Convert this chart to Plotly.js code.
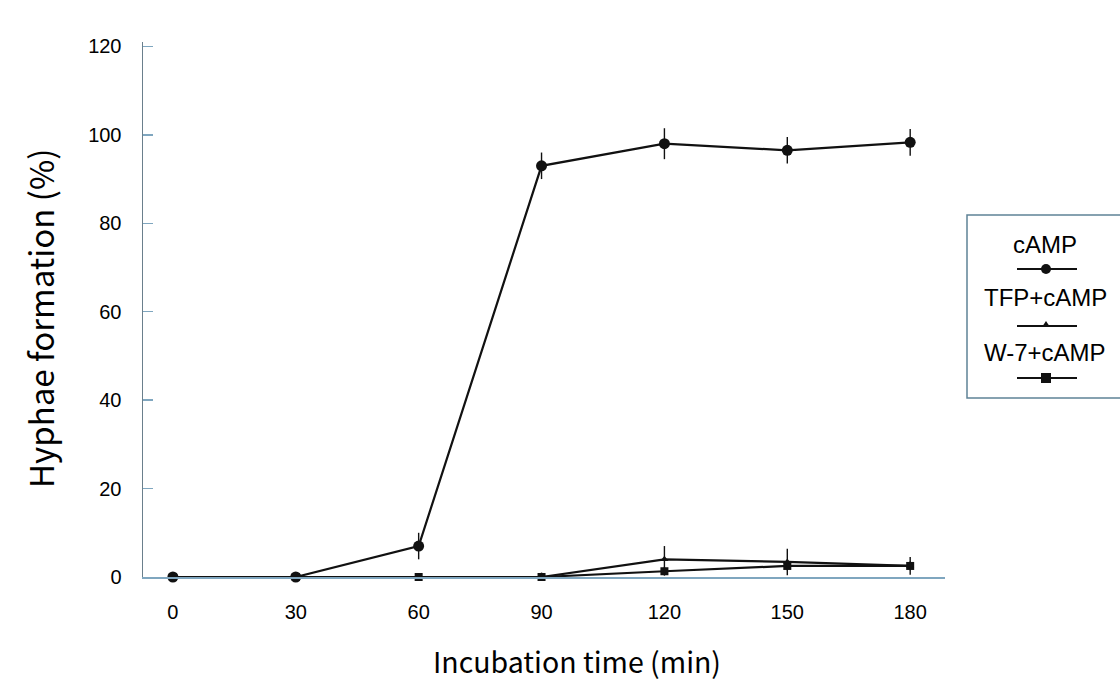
<!DOCTYPE html>
<html><head><meta charset="utf-8">
<script src="https://cdn.plot.ly/plotly-3.0.1.min.js"></script>
<style>html,body{margin:0;padding:0;background:#fff;}#chart{width:1120px;height:682px;}</style>
</head><body><div id="chart"></div>
<script>
const times = [0, 30, 60, 90, 120, 150, 180];
const campValues = [0, 0, 7, 93, 98, 96.5, 98.3];
const campErrors = [0, 0, 3, 3, 3.5, 3, 3];
const tfpValues = [0, 0, 0, 0, 4, 3.4, 2.5];
const tfpErrors = [0, 0, 0, 1, 3, 3, 2];
const w7Values = [0, 0, 0, 0, 1.3, 2.5, 2.5];
const w7Errors = [0, 0, 0, 0, 1, 1, 1];
const seriesNames = ['cAMP', 'TFP+cAMP', 'W-7+cAMP'];
const xTicks = [0, 30, 60, 90, 120, 150, 180];
const yTicks = [0, 20, 40, 60, 80, 100, 120];
const xTitle = 'Incubation time (min)';
const yTitle = 'Hyphae formation (%)';

const lineColor = '#111';
const labelFont = 'Liberation Sans, Arial, sans-serif';
const titleFont = 'Noto Sans CJK JP, Noto Sans, sans-serif';
function tr(name, y, err, symbol, size) {
  return {
    x: times, y: y, name: name, type: 'scatter', mode: 'lines+markers',
    line: {color: lineColor, width: 2.2},
    marker: {symbol: symbol, size: size, color: lineColor},
    error_y: {type: 'data', array: err, visible: true, color: lineColor, thickness: 1.4, width: 0},
    cliponaxis: false, showlegend: false
  };
}
const data = [
  tr(seriesNames[2], w7Values, w7Errors, 'square', 8),
  tr(seriesNames[1], tfpValues, tfpErrors, 'triangle-up', 7),
  tr(seriesNames[0], campValues, campErrors, 'circle', 11)
];

const L = 143, R = 945, T = 42, B = 577;
const px = v => (v - L) / (R - L);
const py = v => (B - v) / (B - T);

const shapes = [
  {type: 'rect', xref: 'paper', yref: 'paper', x0: px(967), x1: px(1128), y0: py(398), y1: py(215),
   line: {color: '#5f8296', width: 1.5}, fillcolor: 'rgba(0,0,0,0)'}
];
const annotations = [
  {xref: 'paper', yref: 'paper', x: px(577), y: py(660), text: xTitle, showarrow: false,
   xanchor: 'center', yanchor: 'middle', font: {size: 28.5, family: titleFont, color: '#000'}},
  {xref: 'paper', yref: 'paper', x: px(40), y: py(318), text: yTitle, showarrow: false, textangle: -90,
   xanchor: 'center', yanchor: 'middle', font: {size: 33, family: titleFont, color: '#000'}}
];
const legY = [[244, 269], [297, 326], [352, 378]];
const symbols = ['circle', 'triangle', 'square'];
legY.forEach((p, i) => {
  annotations.push({xref: 'paper', yref: 'paper', x: px(1045), y: py(p[0]), text: seriesNames[i],
    showarrow: false, xanchor: 'center', yanchor: 'middle',
    font: {family: labelFont, size: 24, color: '#000'}});
  shapes.push({type: 'line', xref: 'paper', yref: 'paper', x0: px(1017), x1: px(1077), y0: py(p[1]), y1: py(p[1]),
    line: {color: lineColor, width: 2.2}});
  const cx = 1046, cy = p[1];
  if (symbols[i] === 'circle') {
    shapes.push({type: 'circle', xref: 'paper', yref: 'paper', x0: px(cx - 5), x1: px(cx + 5), y0: py(cy + 5), y1: py(cy - 5),
      fillcolor: lineColor, line: {color: lineColor, width: 0}});
  } else if (symbols[i] === 'square') {
    shapes.push({type: 'rect', xref: 'paper', yref: 'paper', x0: px(cx - 5), x1: px(cx + 5), y0: py(cy + 5), y1: py(cy - 5),
      fillcolor: lineColor, line: {color: lineColor, width: 0}});
  } else {
    shapes.push({type: 'path', xref: 'paper', yref: 'paper',
      path: `M ${px(cx - 4)} ${py(cy + 1)} L ${px(cx + 4)} ${py(cy + 1)} L ${px(cx)} ${py(cy - 5)} Z`,
      fillcolor: lineColor, line: {color: lineColor, width: 0}});
  }
});

const layout = {
  width: 1120, height: 682,
  margin: {l: L, r: 1120 - R, t: T, b: 682 - B},
  paper_bgcolor: '#fff', plot_bgcolor: '#fff',
  showlegend: false,
  font: {family: labelFont, color: '#000'},
  xaxis: {
    range: [-7.3, 188.5], tickvals: xTicks, ticktext: xTicks.map(String),
    showgrid: false, zeroline: false, showline: true, linecolor: '#7fa6bf', linewidth: 1.5,
    ticks: '', ticklabelstandoff: 16,
    tickfont: {size: 20, family: labelFont, color: '#000'}
  },
  yaxis: {
    range: [0, 121], tickvals: yTicks, ticktext: yTicks.map(String),
    showgrid: false, zeroline: false, showline: true, linecolor: '#6a7f8c', linewidth: 1.5,
    ticks: 'inside', ticklen: 10, tickcolor: '#7fa6bf', tickwidth: 1.5, ticklabelstandoff: 16,
    tickfont: {size: 20, family: labelFont, color: '#000'}
  },
  shapes: shapes,
  annotations: annotations
};
Plotly.newPlot('chart', data, layout, {displayModeBar: false, staticPlot: true});
</script>
</body></html>
